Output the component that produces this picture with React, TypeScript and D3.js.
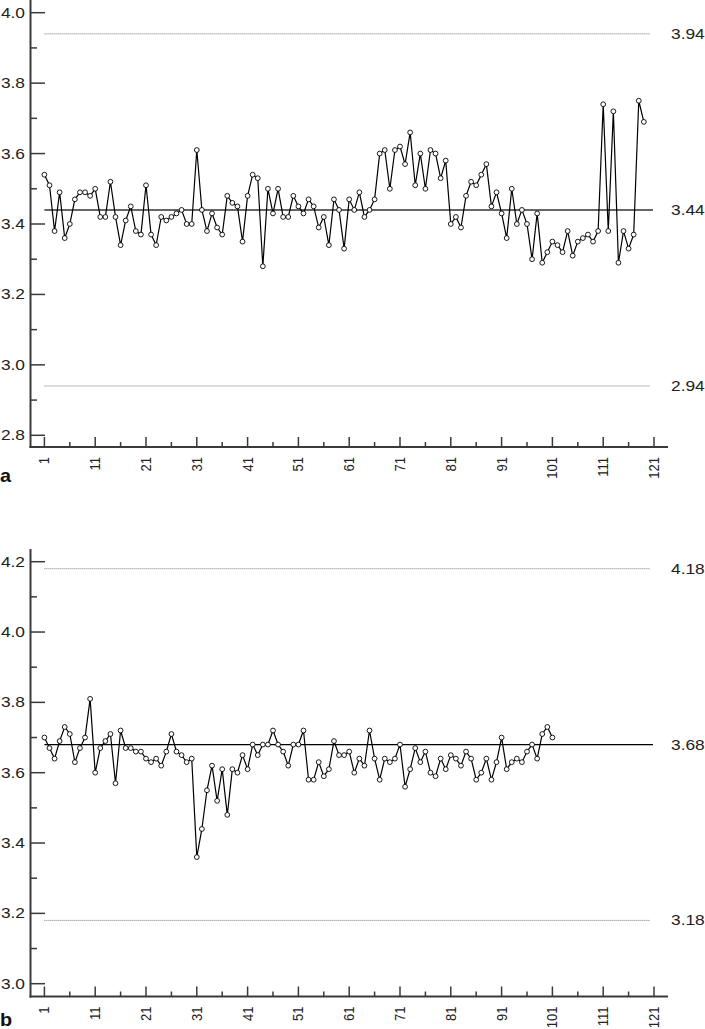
import React from "react";
import * as d3 from "d3";

const seriesA: number[] = [
  3.54, 3.51, 3.38, 3.49, 3.36, 3.40, 3.47, 3.49, 3.49, 3.48,
  3.50, 3.42, 3.42, 3.52, 3.42, 3.34, 3.41, 3.45, 3.38, 3.37,
  3.51, 3.37, 3.34, 3.42, 3.41, 3.42, 3.43, 3.44, 3.40, 3.40,
  3.61, 3.44, 3.38, 3.43, 3.39, 3.37, 3.48, 3.46, 3.45, 3.35,
  3.48, 3.54, 3.53, 3.28, 3.50, 3.43, 3.50, 3.42, 3.42, 3.48,
  3.45, 3.43, 3.47, 3.45, 3.39, 3.42, 3.34, 3.47, 3.44, 3.33,
  3.47, 3.44, 3.49, 3.42, 3.44, 3.47, 3.60, 3.61, 3.50, 3.61,
  3.62, 3.57, 3.66, 3.51, 3.60, 3.50, 3.61, 3.60, 3.53, 3.58,
  3.40, 3.42, 3.39, 3.48, 3.52, 3.51, 3.54, 3.57, 3.45, 3.49,
  3.43, 3.36, 3.50, 3.40, 3.44, 3.40, 3.30, 3.43, 3.29, 3.32,
  3.35, 3.34, 3.32, 3.38, 3.31, 3.35, 3.36, 3.37, 3.35, 3.38,
  3.74, 3.38, 3.72, 3.29, 3.38, 3.33, 3.37, 3.75, 3.69,
];

const seriesB: number[] = [
  3.70, 3.67, 3.64, 3.69, 3.73, 3.71, 3.63, 3.67, 3.70, 3.81,
  3.60, 3.67, 3.69, 3.71, 3.57, 3.72, 3.67, 3.67, 3.66, 3.66,
  3.64, 3.63, 3.64, 3.62, 3.66, 3.71, 3.66, 3.65, 3.63, 3.64,
  3.36, 3.44, 3.55, 3.62, 3.52, 3.61, 3.48, 3.61, 3.60, 3.65,
  3.61, 3.68, 3.65, 3.68, 3.68, 3.72, 3.68, 3.66, 3.62, 3.68,
  3.68, 3.72, 3.58, 3.58, 3.63, 3.59, 3.61, 3.69, 3.65, 3.65,
  3.66, 3.60, 3.64, 3.62, 3.72, 3.64, 3.58, 3.64, 3.63, 3.64,
  3.68, 3.56, 3.61, 3.67, 3.63, 3.66, 3.60, 3.59, 3.64, 3.61,
  3.65, 3.64, 3.62, 3.66, 3.64, 3.58, 3.60, 3.64, 3.58, 3.63,
  3.70, 3.61, 3.63, 3.64, 3.63, 3.66, 3.68, 3.64, 3.71, 3.73,
  3.70,
];

const xTicks: number[] = [1, 11, 21, 31, 41, 51, 61, 71, 81, 91, 101, 111, 121];
const xMinorTicks: number[] = [6, 16, 26, 36, 46, 56, 66, 76, 86, 96, 106, 116];

const yTicksA: number[] = [2.8, 3.0, 3.2, 3.4, 3.6, 3.8, 4.0];
const yTicksB: number[] = [3.0, 3.2, 3.4, 3.6, 3.8, 4.0, 4.2];

const limitsA = { ucl: 3.94, center: 3.44, lcl: 2.94 };
const limitsB = { ucl: 4.18, center: 3.68, lcl: 3.18 };

const FONT = "'Liberation Sans', Arial, sans-serif";
const STRETCH = 1.24;

type PanelProps = {
  data: number[];
  yDomain: [number, number];
  yRange: [number, number];
  yTicks: number[];
  axisTop: number;
  axisY: number;
  limits: { ucl: number; center: number; lcl: number };
  centerColor: string;
  centerWidth: number;
  letter: string;
  letterY: number;
};

const xScale = d3.scaleLinear().domain([1, 121]).range([44.4, 654]);
const axisX = 30.5;
const axisRight = 668;

function Panel(p: PanelProps) {
  const y = d3.scaleLinear().domain(p.yDomain).range(p.yRange);
  const minorY: number[] = [];
  for (let i = 0; i < p.yTicks.length - 1; i++) {
    minorY.push((p.yTicks[i] + p.yTicks[i + 1]) / 2);
  }
  const line = d3
    .line<number>()
    .x((_, i) => xScale(i + 1))
    .y((d) => y(d));
  const lineX0 = xScale(1);
  const lineX1 = xScale(120.2);
  const fmt = d3.format(".1f");
  const fmt2 = d3.format(".2f");
  return (
    <g>
      {/* reference lines */}
      <line x1={lineX0} x2={lineX1} y1={y(p.limits.ucl)} y2={y(p.limits.ucl)} stroke="#777" strokeWidth={1} strokeDasharray="1,1" />
      <line x1={lineX0} x2={lineX1} y1={y(p.limits.lcl)} y2={y(p.limits.lcl)} stroke="#777" strokeWidth={1} strokeDasharray="1,1" />
      <line x1={lineX0} x2={xScale(120.8)} y1={y(p.limits.center)} y2={y(p.limits.center)} stroke={p.centerColor} strokeWidth={p.centerWidth} />
      {[p.limits.ucl, p.limits.center, p.limits.lcl].map((v) => (
        <text
          key={v}
          transform={`translate(671,${y(v)}) scale(${STRETCH},1)`}
          dy="0.36em"
          fontSize={14}
          fontFamily={FONT}
          fill="#222"
        >
          {fmt2(v)}
        </text>
      ))}
      {/* axes */}
      <line x1={axisX} x2={axisX} y1={p.axisTop} y2={p.axisY + 1} stroke="#3a3a3a" strokeWidth={2} />
      <line x1={axisX - 1} x2={axisRight} y1={p.axisY} y2={p.axisY} stroke="#3a3a3a" strokeWidth={2} />
      {p.yTicks.map((t) => (
        <g key={t}>
          <line x1={axisX} x2={45} y1={y(t)} y2={y(t)} stroke="#3a3a3a" strokeWidth={1.5} />
          <text
            transform={`translate(25,${y(t)}) scale(${STRETCH},1)`}
            dy="0.36em"
            textAnchor="end"
            fontSize={14}
            fontFamily={FONT}
            fill="#222"
          >
            {fmt(t)}
          </text>
        </g>
      ))}
      {minorY.map((t) => (
        <line key={t} x1={axisX} x2={37} y1={y(t)} y2={y(t)} stroke="#3a3a3a" strokeWidth={1.5} />
      ))}
      {xTicks.map((t) => (
        <g key={t}>
          <line x1={xScale(t)} x2={xScale(t)} y1={p.axisY} y2={p.axisY - 10} stroke="#3a3a3a" strokeWidth={1.5} />
          <text
            transform={`translate(${xScale(t)},${p.axisY + 10}) rotate(-90) scale(1,1.08)`}
            dy="0.36em"
            textAnchor="end"
            fontSize={13}
            fontFamily={FONT}
            fill="#222"
          >
            {t}
          </text>
        </g>
      ))}
      {xMinorTicks.map((t) => (
        <line key={t} x1={xScale(t)} x2={xScale(t)} y1={p.axisY} y2={p.axisY - 5} stroke="#3a3a3a" strokeWidth={1.5} />
      ))}
      {/* data */}
      <path d={line(p.data) || ""} fill="none" stroke="#000" strokeWidth={1.2} />
      {p.data.map((d, i) => (
        <circle key={i} cx={xScale(i + 1)} cy={y(d)} r={2.4} fill="#fff" stroke="#000" strokeWidth={0.9} />
      ))}
      <text
        transform={`translate(0,${p.letterY}) scale(1.1,1)`}
        fontSize={18}
        fontWeight="bold"
        fontFamily={FONT}
        fill="#111"
      >
        {p.letter}
      </text>
    </g>
  );
}

export default function App() {
  return (
    <svg
      width={705}
      height={1029}
      style={{ position: "absolute", left: 0, top: 0, display: "block", background: "#fff" }}
    >
      <rect width={705} height={1029} fill="#fff" />
      <Panel
        data={seriesA}
        yDomain={[2.8, 4.0]}
        yRange={[435.3, 12.7]}
        yTicks={yTicksA}
        axisTop={0}
        axisY={447}
        limits={limitsA}
        centerColor="#666"
        centerWidth={2}
        letter="a"
        letterY={482}
      />
      <Panel
        data={seriesB}
        yDomain={[3.0, 4.2]}
        yRange={[983.7, 561.7]}
        yTicks={yTicksB}
        axisTop={549}
        axisY={996.5}
        limits={limitsB}
        centerColor="#000"
        centerWidth={1.3}
        letter="b"
        letterY={1026}
      />
    </svg>
  );
}
